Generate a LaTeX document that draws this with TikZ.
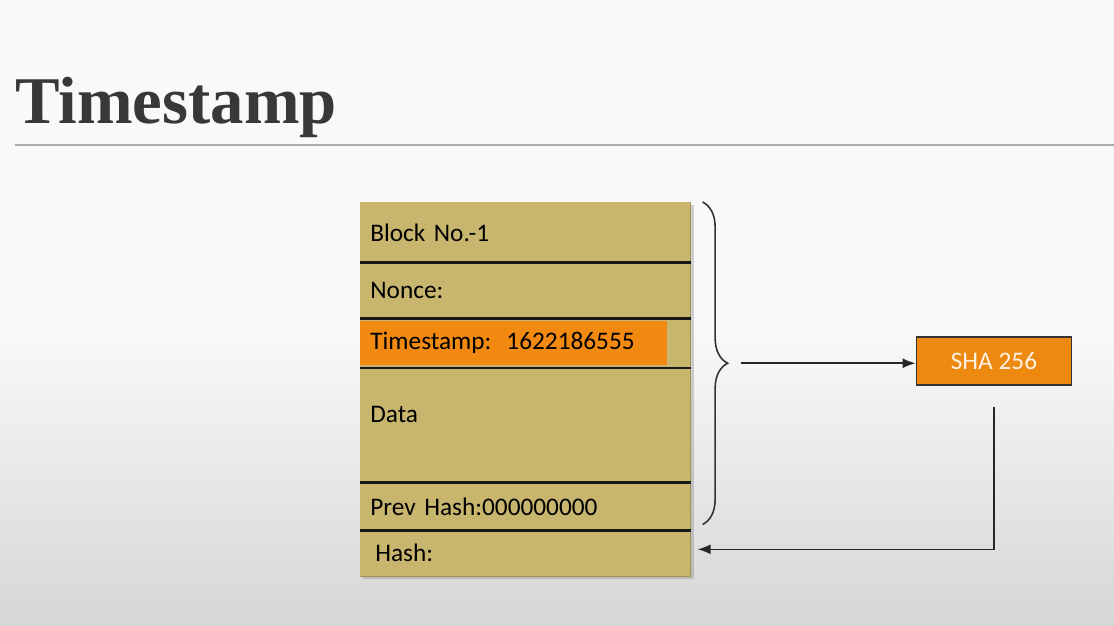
\documentclass[tikz,border=0pt]{standalone}
\usepackage{fontspec}
\setmainfont{Carlito}
\newfontfamily\titlefont{Liberation Serif}
\usetikzlibrary{positioning,arrows.meta,decorations.pathreplacing,calc,shadows,fit,backgrounds}
\definecolor{khaki}{RGB}{201,182,110}
\definecolor{orangehi}{RGB}{242,138,18}
\definecolor{shaorange}{RGB}{238,137,16}
\definecolor{inkgray}{RGB}{56,56,56}
\definecolor{rulegray}{RGB}{170,170,170}
\definecolor{bgtop}{RGB}{249,249,249}
\definecolor{bgbottom}{RGB}{214,214,214}

\begin{document}
\begin{tikzpicture}[
  x=0.02cm, y=-0.02cm,
  rowbox/.style={rectangle, fill=khaki, minimum width=6.6cm, text width=6.2cm, inner xsep=0.2cm, inner ysep=0pt, align=left, font=\fontsize{14.4}{16}\selectfont, text=black},
  sep/.style={line width=1.6pt, black!90},
  brace/.style={decorate, decoration={brace, amplitude=0.5cm}, line width=0.9pt, black!80},
  arrow/.style={-{Latex[length=2.6mm, width=2mm]}, line width=0.9pt, black!85},
  hashbox/.style={rectangle, draw=black!80, line width=1pt, fill=shaorange, minimum width=3.1cm, minimum height=0.96cm, text=white!90!orange, font=\fontsize{14.4}{16}\selectfont}
]

% Page
\useasboundingbox (0,0) rectangle (1114,625);
\begin{scope}[on background layer]
  \fill[bgtop] (0,0) rectangle (1114,330);
  \shade[top color=bgtop, bottom color=bgbottom] (0,330) rectangle (1114,625);
\end{scope}

% Title
\node[anchor=base west, inner sep=0pt, font=\titlefont\bfseries\fontsize{38}{40}\selectfont, text=inkgray] (title) at (15,123) {Timestamp};
\draw[rulegray, line width=1.2pt] (15,145) -- (1114,145);

% Block rows
\node[rowbox, minimum height=1.2cm, anchor=north west] (blockno) at (360,202) {\raisebox{-0.08cm}{Block No.-1}};
\node[rowbox, minimum height=1.1cm, below=0pt of blockno] (nonce) {Nonce:};
\node[rowbox, minimum height=0.98cm, below=0pt of nonce] (tstamp) {};
\node[rowbox, fill=orangehi, minimum width=6.14cm, text width=5.74cm, minimum height=0.88cm, anchor=west] (tsval) at (tstamp.west) {Timestamp:\hspace{0.3cm}1622186555};
\node[rowbox, minimum height=2.28cm, text height=1.08cm, text depth=1.2cm, below=0pt of tstamp] (data) {Data};
\node[rowbox, minimum height=0.94cm, below=0pt of data] (prevhash) {Prev Hash:000000000};
\node[rowbox, minimum height=0.9cm, below=0pt of prevhash] (hash) {\hspace{0.1cm}Hash:};

\begin{scope}[on background layer]
  \node[fit=(blockno)(hash), inner sep=0pt, fill=khaki, draw=khaki!80!black, drop shadow={shadow xshift=0.06cm, shadow yshift=-0.06cm, opacity=0.35}] (block) {};
\end{scope}

% Separators
\foreach \r in {blockno,nonce,tstamp,data,prevhash}
  \draw[sep] (\r.south west) -- (\r.south east);

% Brace and hashing
\draw[brace] ([xshift=0.24cm]blockno.north east) -- ([xshift=0.24cm, yshift=0.12cm]prevhash.south east);
\coordinate (bracetip) at ($(blockno.north east)!0.5!(prevhash.south east)+(1.0cm,0.06cm)$);
\node[hashbox, right=3.5cm of bracetip, yshift=0.04cm] (sha) {SHA 256};

% Arrows
\draw[arrow] (bracetip) -- (bracetip -| sha.west);
\draw[arrow] ([yshift=-0.42cm]sha.south) |- ([xshift=0.14cm, yshift=0.08cm]hash.east);

\end{tikzpicture}
\end{document}
